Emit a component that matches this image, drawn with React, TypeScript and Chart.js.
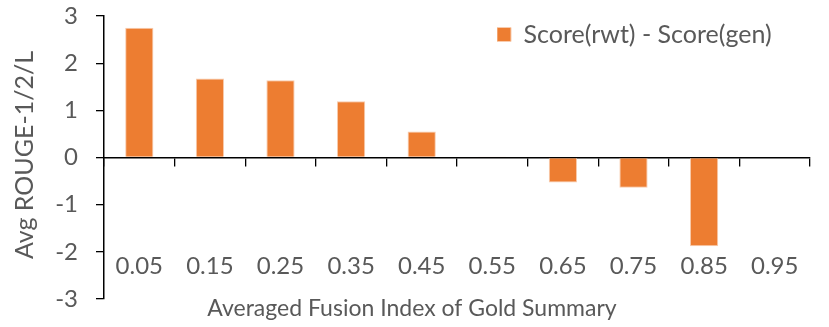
import React, { useEffect, useRef } from 'react';
import { Chart, registerables } from 'chart.js';

Chart.register(...registerables);

const categories = ['0.05', '0.15', '0.25', '0.35', '0.45', '0.55', '0.65', '0.75', '0.85', '0.95'];
const diffValues = [2.75, 1.675, 1.64, 1.19, 0.55, 0.02, -0.53, -0.64, -1.88, 0];
const yMin = -3;
const yMax = 3;
const yStep = 1;
const seriesLabel = 'Score(rwt) - Score(gen)';
const yTitle = 'Avg ROUGE-1/2/L';
const xTitle = 'Averaged Fusion Index of Gold Summary';

const TEXT = '#595959';
const FAMILY = 'Lato';

export default function App() {
  const ref = useRef<HTMLCanvasElement>(null);

  useEffect(() => {
    document.body.style.margin = '0';
    if (!ref.current) return;

    const placePlugin = {
      id: 'placeExtras',
      afterLayout(chart: any) {
        const lg = chart.legend;
        if (lg) {
          const w = lg.width;
          const h = lg.height;
          lg.left = 497;
          lg.top = 22;
          lg.right = lg.left + w + 20;
          lg.bottom = lg.top + h;
        }
        const xt = chart.scales.xt;
        if (xt) xt.right -= 90;
        const yt = chart.scales.yt;
        if (yt) yt.top -= 5;
      },
    };

    const chart = new Chart(ref.current, {
      type: 'bar',
      data: {
        labels: categories,
        datasets: [
          {
            label: seriesLabel,
            data: diffValues,
            backgroundColor: '#ED7D31',
            borderColor: '#F8CBAD',
            borderWidth: 1,
            barPercentage: 0.4,
            categoryPercentage: 1,
            xAxisID: 'x',
            yAxisID: 'y',
          },
        ],
      },
      options: {
        animation: false,
        responsive: false,
        maintainAspectRatio: false,
        layout: { padding: { top: 16, right: 19, left: 0, bottom: 0 } },
        plugins: {
          tooltip: { enabled: false },
          legend: {
            display: true,
            position: 'chartArea',
            align: 'start',
            labels: {
              boxWidth: 14,
              boxHeight: 14,
              padding: 0,
              color: TEXT,
              font: { family: FAMILY, size: 25 },
            },
          },
        },
        scales: {
          x: {
            type: 'category',
            position: { y: 0 },
            offset: true,
            z: 1,
            grid: {
              display: true,
              drawOnChartArea: false,
              drawTicks: true,
              tickLength: 8,
              offset: true,
              color: '#000',
              lineWidth: 1.3,
            },
            border: { display: true, color: '#000', width: 1.5 },
            ticks: { display: false },
          },
          xl: {
            type: 'category',
            position: { y: -2 },
            offset: true,
            grid: { display: false, drawTicks: false },
            border: { display: false },
            ticks: {
              color: TEXT,
              font: { family: FAMILY, size: 24 },
              padding: 0,
              maxRotation: 0,
              autoSkip: false,
            },
          },
          xt: {
            type: 'category',
            position: 'bottom',
            offset: true,
            grid: { display: false, drawTicks: false },
            border: { display: false },
            ticks: { display: false },
            title: {
              display: true,
              text: xTitle,
              color: TEXT,
              font: { family: FAMILY, size: 23 },
              padding: { top: 0, bottom: 5 },
            },
            afterFit: (s: any) => {
              s.height = 28;
            },
          },
          y: {
            type: 'linear',
            position: 'left',
            weight: 0,
            min: yMin,
            max: yMax,
            ticks: {
              stepSize: yStep,
              color: TEXT,
              font: { family: FAMILY, size: 24 },
              padding: 18,
            },
            grid: {
              display: true,
              drawOnChartArea: false,
              drawTicks: true,
              tickLength: 8,
              color: '#000',
              lineWidth: 1.3,
            },
            border: { display: true, color: '#000', width: 1.5 },
            afterFit: (s: any) => {
              s.width = 64;
              s.paddingTop = 0;
              s.paddingBottom = 0;
            },
          },
          yt: {
            type: 'linear',
            position: 'left',
            weight: 1,
            grid: { display: false, drawTicks: false },
            border: { display: false },
            ticks: { display: false },
            title: {
              display: true,
              text: yTitle,
              color: TEXT,
              font: { family: FAMILY, size: 25 },
              padding: { top: 10, bottom: 0 },
            },
            afterFit: (s: any) => {
              s.width = 40;
              s.paddingTop = 0;
              s.paddingBottom = 0;
            },
          },
        },
      } as any,
      plugins: [placePlugin],
    });

    return () => {
      chart.destroy();
    };
  }, []);

  return (
    <div style={{ position: 'absolute', left: 0, top: 0, width: 829, height: 327 }}>
      <canvas ref={ref} width={829} height={327} style={{ display: 'block' }} />
    </div>
  );
}
